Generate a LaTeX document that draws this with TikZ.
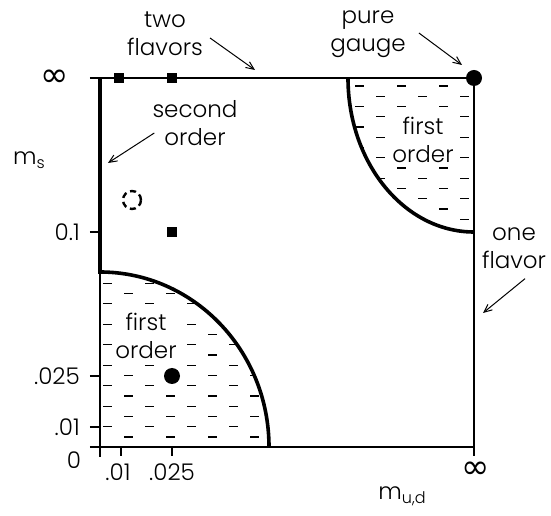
\documentclass[tikz,border=0pt]{standalone}
\usepackage{fontspec}
\IfFontExistsTF{Poppins Light}{\setmainfont{Poppins Light}}{\setmainfont{Poppins}}
\newfontfamily\symfont{DejaVu Sans}
\usetikzlibrary{arrows.meta}
\newcommand{\subtext}[1]{\raisebox{-0.35ex}{\fontsize{16}{16}\selectfont #1}}

\begin{document}
\begin{tikzpicture}[
    x=1pt, y=1pt,
    every node/.style={font=\fontsize{23}{28}\selectfont, inner sep=1pt},
    axisline/.style={line width=1.2pt},
    phaseline/.style={line width=3.6pt},
    hatchdash/.style={line width=1.2pt},
    notetext/.style={align=center},
    regiontext/.style={align=center, fill=white},
    infsym/.style={font=\symfont\fontsize{34}{34}\selectfont},
    pointer/.style={-{Straight Barb[length=8pt,width=7pt]}, line width=1pt},
    sqmark/.style={fill=black, minimum size=10pt, inner sep=0pt},
    dotmark/.style={circle, fill=black, minimum size=16pt, inner sep=0pt},
]
\useasboundingbox (-100,-69) rectangle (451,447);

% ---- Hatching of the first order regions ----
\begin{scope}
  \clip (0,0) -- (0,175) arc[start angle=90, end angle=0, x radius=169, y radius=175] -- cycle;
  \foreach \r in {0,...,16} {
    \pgfmathsetmacro\yy{10+10.25*\r}
    \pgfmathsetmacro\off{mod(\r+1,2)*21}
    \foreach \c in {0,...,4} \draw[hatchdash] ({3+\off+42*\c},\yy) -- ++(9,0);
  }
\end{scope}
\begin{scope}
  \clip (374,369) -- (248,369) arc[start angle=180, end angle=270, x radius=126, y radius=154] -- cycle;
  \foreach \r in {0,...,15} {
    \pgfmathsetmacro\yy{361-10.25*\r}
    \pgfmathsetmacro\off{mod(\r,2)*21}
    \foreach \c in {5,...,9} \draw[hatchdash] ({3+\off+42*\c},\yy) -- ++(9,0);
  }
\end{scope}

% ---- Frame and ticks ----
\draw[axisline] (-10,369) -- (374,369) -- (374,-9);
\draw[axisline] (-10,0) -- (374,0);
\draw[axisline] (0,-10) -- (0,175);
\foreach \t in {215,71,20} \draw[axisline] (-10,\t) -- (0,\t);
\foreach \t in {21,72} \draw[axisline] (\t,0) -- (\t,-9);

% ---- Phase boundaries ----
\draw[phaseline] (0,369) -- (0,175) arc[start angle=90, end angle=0, x radius=169, y radius=175];
\draw[phaseline] (248,369) arc[start angle=180, end angle=270, x radius=126, y radius=154];

% ---- Data points ----
\node[sqmark] (sqa) at (19,369) {};
\node[sqmark] (sqb) at (72,369) {};
\node[sqmark] (sqc) at (72,215) {};
\node[dotmark] (dotlow) at (72,71) {};
\node[dotmark] (dotgauge) at (374,369) {};
\draw[line width=2.4pt, dash pattern=on 6pt off 4pt] (32,247) circle (9);

% ---- Axis labels ----
\node[infsym] (infleft) at (-45,369) {∞};
\node (mslab) at (-71,287) {m\subtext{s}};
\node[anchor=east] (lab01) at (-19,215) {0.1};
\node[anchor=east] (lab025) at (-19,71) {.025};
\node[anchor=east] (lab001) at (-19,20) {.01};
\node (labzero) at (-26,-13) {0};
\node (xlab001) at (18,-25) {.01};
\node (xlab025) at (72,-25) {.025};
\node[infsym] (infright) at (376,-23) {∞};
\node (mudlab) at (302,-49) {m\subtext{u,d}};

% ---- Region labels ----
\node[regiontext] (firstlow) at (46,111) {first\\order};
\node[regiontext] (firsthigh) at (323,307) {first\\order};

% ---- Notes with pointers ----
\node[notetext] (twoflav) at (65,413) {two\\flavors};
\node[notetext] (puregauge) at (268,413) {pure\\gauge};
\node[notetext] (secorder) at (95,324) {second\\order};
\node[notetext] (oneflav) at (414,199) {one\\flavor};

\coordinate (twotip) at (155,377);
\coordinate (puretip) at (362,382);
\coordinate (sectip) at (8,284);
\coordinate (onetip) at (383,134);

\draw[pointer] ([shift={(6,-4)}]twoflav.east) -- (twotip);
\draw[pointer] ([shift={(12,1)}]puregauge.east) -- (puretip);
\draw[pointer] ([shift={(3,-10)}]secorder.west) -- (sectip);
\draw[pointer] ([shift={(11,-9)}]oneflav.south) -- (onetip);

\end{tikzpicture}
\end{document}
